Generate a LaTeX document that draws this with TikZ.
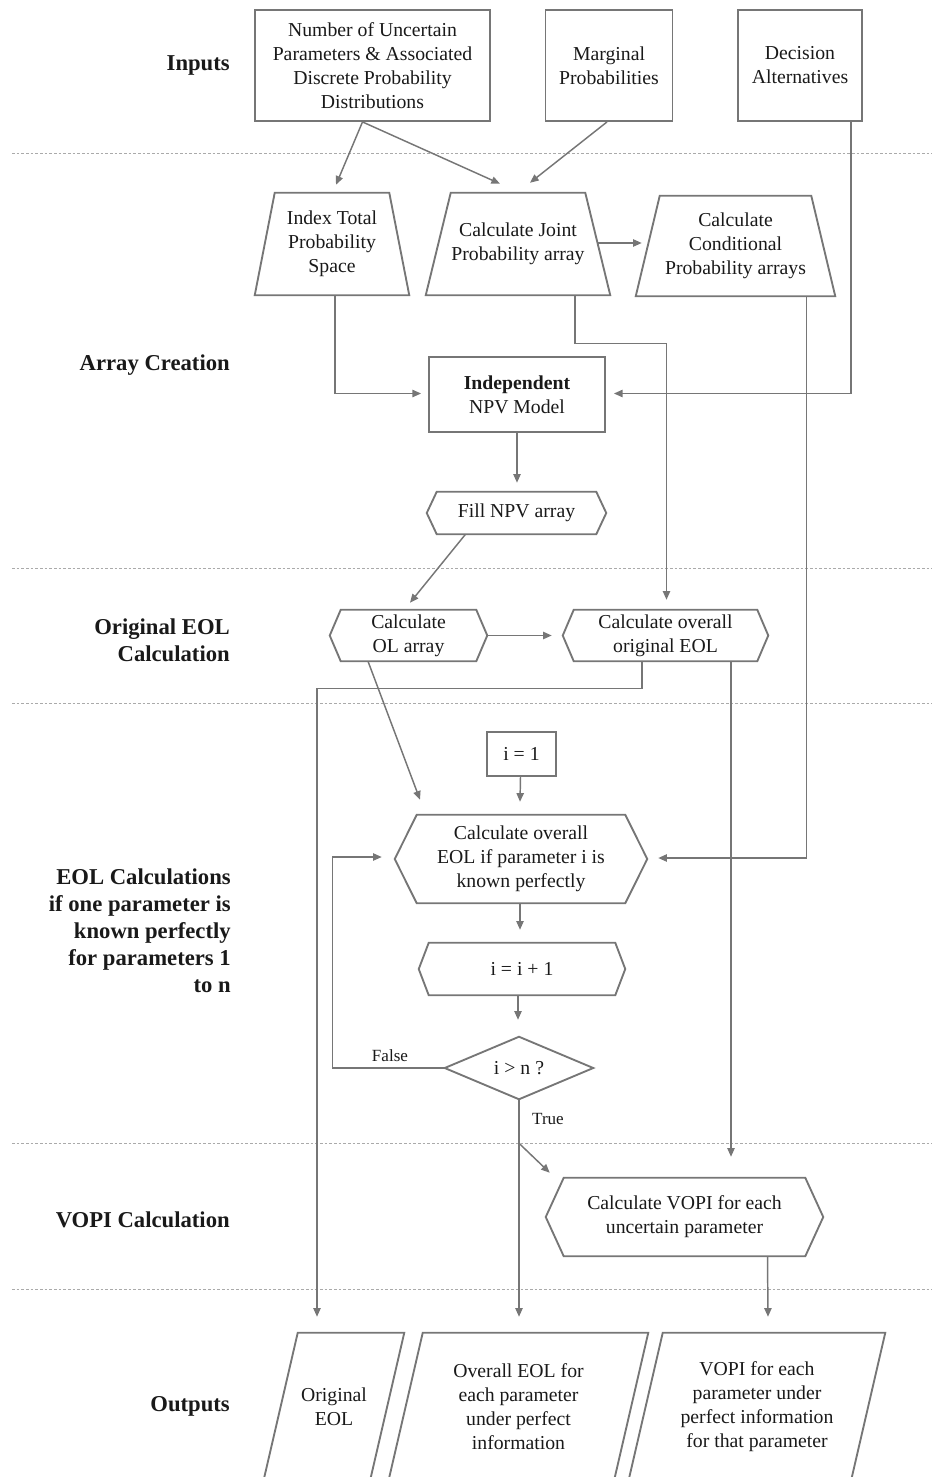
\documentclass[tikz,border=0pt]{standalone}
\usepackage{fontspec}
\setmainfont{Liberation Serif}
\usetikzlibrary{arrows.meta,calc}
\definecolor{lc}{RGB}{118,118,118}
\definecolor{sepc}{RGB}{170,170,170}
\definecolor{tc}{RGB}{25,25,25}
\newcommand\hexdraw[2]{\draw[outl] (#1.west) -- ($(#1.north west)+(#2,0)$) -- ($(#1.north east)+(-#2,0)$) -- (#1.east) -- ($(#1.south east)+(-#2,0)$) -- ($(#1.south west)+(#2,0)$) -- cycle;}
\newcommand\trapdraw[2]{\draw[outl] (#1.south west) -- ($(#1.north west)+(#2,0)$) -- ($(#1.north east)+(-#2,0)$) -- (#1.south east) -- cycle;}
\newcommand\parodraw[1]{\draw[outl] ($(#1.south west)+(-22,20)$) -- ($(#1.north west)+(17,0)$) -- ($(#1.north east)+(17,0)$) -- ($(#1.south east)+(-22,20)$);}
\begin{document}
\begin{tikzpicture}[x=0.75pt,y=-0.75pt,
  every node/.style={text=tc, font=\fontsize{14.8}{18}\selectfont, align=center, inner sep=0pt},
  bx/.style 2 args={minimum width=#1*0.75pt, minimum height=#2*0.75pt},
  rbox/.style={draw=lc, line width=1.4pt},
  outl/.style={draw=lc, line width=1.4pt, line join=miter},
  con/.style={draw=lc, line width=1.1pt, -{Triangle[length=6.5pt,width=5.5pt]}},
  sepl/.style={draw=sepc, line width=0.6pt, dash pattern=on 2pt off 1.5pt},
  lab/.style={anchor=east, align=right, font=\fontsize{17}{20.3}\selectfont\bfseries},
  small/.style={font=\fontsize{12.8}{15}\selectfont},
]
\useasboundingbox (0,0) rectangle (932,1477);
\clip (0,0) rectangle (932,1477);

% separators
\foreach \yy in {153,568,703,1143,1289} {\draw[sepl] (12,\yy) -- (932,\yy);}

% lane labels
\node[lab] (l1) at (230,65) {Inputs};
\node[lab] (l2) at (230,365) {Array Creation};
\node[lab] (l3) at (230,640) {Original EOL\\Calculation};
\node[lab] (l4) at (231,931) {EOL Calculations\\if one parameter is\\known perfectly\\for parameters 1\\to n};
\node[lab] (l5) at (230,1220) {VOPI Calculation};
\node[lab] (l6) at (230,1406) {Outputs};

% inputs
\node[rbox, bx={235}{111}] (b1) at (372.5,65.5) {Number of Uncertain\\Parameters \& Associated\\Discrete Probability\\Distributions};
\node[rbox, bx={127}{111}] (marg) at (609,65.5) {Marginal\\Probabilities};
\node[rbox, bx={124}{111}] (dec) at (800,65.5) {Decision\\Alternatives};

% array creation
\node[bx={154}{102}] (idx) at (332,244) {Index Total\\Probability\\Space};
\node[bx={184}{102}] (joint) at (518,244) {Calculate Joint\\Probability array};
\node[bx={199}{100}] (cond) at (735.5,246) {Calculate\\Conditional\\Probability arrays};
\trapdraw{idx}{20}
\trapdraw{joint}{25}
\trapdraw{cond}{24}
\node[rbox, bx={176}{75}] (npv) at (517,394.5) {\textbf{Independent}\\NPV Model};
\node[bx={179}{42}] (fill) at (516.5,513) {Fill NPV array};
\hexdraw{fill}{10}

% original EOL
\node[bx={157}{51}] (ol) at (408.5,635.5) {Calculate\\OL array};
\node[bx={205}{51}] (ovr) at (665.5,635.5) {Calculate overall\\original EOL};
\hexdraw{ol}{11}
\hexdraw{ovr}{11}

% EOL loop
\node[rbox, bx={69}{44}] (ione) at (521.5,754) {i = 1};
\node[bx={252}{88}] (eolp) at (521,859) {Calculate overall\\EOL if parameter i is\\known perfectly};
\hexdraw{eolp}{22}
\node[bx={206}{52}] (inc) at (522,969) {i = i + 1};
\hexdraw{inc}{10}
\node[bx={148}{62}] (dia) at (519,1068) {i > n ?};
\draw[outl] (dia.west) -- (dia.north) -- (dia.east) -- (dia.south) -- cycle;

% VOPI
\node[bx={277}{78}] (vopic) at (684.5,1217) {Calculate VOPI for each\\uncertain parameter};
\hexdraw{vopic}{18}

% outputs
\node[bx={106}{148}] (oeol) at (334,1407) {Original\\EOL};
\node[bx={225}{148}] (oall) at (518.5,1407) {Overall EOL for\\each parameter\\under perfect\\information};
\node[bx={222}{148}] (ovopi) at (757,1407) {VOPI for each\\parameter under\\perfect information\\for that parameter};
\parodraw{oeol}
\parodraw{oall}
\parodraw{ovopi}

% connectors
\draw[con] ($(b1.south)+(-10,0)$) -- ($(idx.north)+(4,-8)$);
\draw[con] ($(b1.south)+(-10,0)$) -- ($(joint.north)+(-18,-9)$);
\draw[con] ($(marg.south)+(-2,0)$) -- ($(joint.north)+(12,-10)$);
\draw[con] ($(joint.east)+(-13,-1)$) -- ($(cond.west)+(6,-3)$);
\draw[con] ($(idx.south)+(3,0)$) |- ($(npv.west)+(-7,-1)$);
\draw[con] ($(dec.south)+(51,0)$) |- ($(npv.east)+(8,-1)$);
\draw[con] ($(joint.south)+(57,0)$) -- ++(0,48) -| ($(ovr.north)+(1,-10)$);
\draw[con] ($(cond.south)+(71,0)$) |- ($(eolp.east)+(11,-1)$);
\draw[con] (npv.south) -- ($(fill.north)+(0.5,-9)$);
\draw[con] ($(fill.south)+(-51,0)$) -- ($(ol.north)+(1.5,-7)$);
\draw[con] (ol.east) -- ($(ovr.west)+(-11,0)$);
\draw[con] ($(ovr.south)+(-23.5,0)$) -- ++(0,27) -| ($(oeol.north)+(-17,-16)$);
\draw[con] ($(ovr.south)+(65.5,0)$) -- ($(vopic.north)+(46.5,-21)$);
\draw[con] ($(ol.south)+(-40.5,0)$) -- ($(eolp.north)+(-101,-15)$);
\draw[con] ($(ione.south)+(-1,0)$) -- ($(eolp.north)+(-1,-13)$);
\draw[con] ($(eolp.south)+(-1,0)$) -- ($(inc.north)+(-2,-13)$);
\draw[con] ($(inc.south)+(-4,0)$) -- ($(dia.north)+(-1,-17)$);
\draw[con] (dia.west) -- ++(-112,0) |- ($(eolp.west)+(-13,-2)$);
\node[small] (fl) at (390,1056) {False};
\draw[con] (dia.south) -- ($(dia.south |- oall.north)+(0,-16)$);
\node[small] (tl) at (548,1119) {True};
\draw[con] ($(dia.south)+(0,44)$) -- ($(vopic.north west)+(4,-5)$);
\draw[con] ($(vopic.south)+(83,0)$) -- ($(ovopi.north)+(11,-16)$);
\end{tikzpicture}
\end{document}
